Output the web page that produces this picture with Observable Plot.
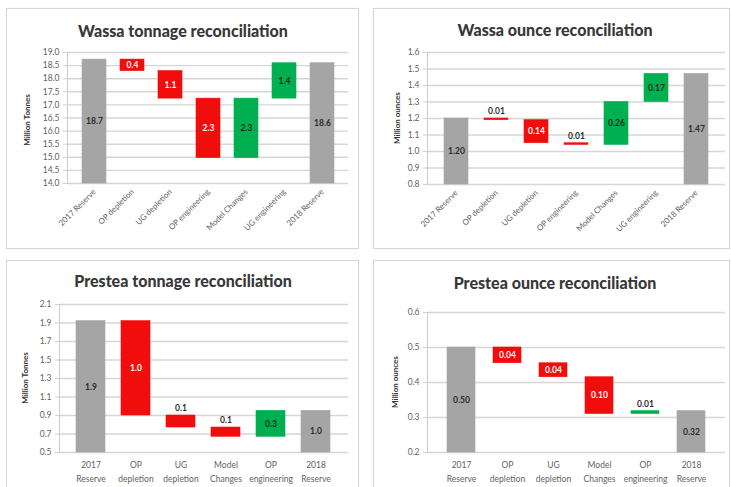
<!DOCTYPE html>
<html>
<head>
<meta charset="utf-8">
<script src="https://cdn.jsdelivr.net/npm/d3@7"></script>
<script src="https://cdn.jsdelivr.net/npm/@observablehq/plot@0.6"></script>
<style>
  html, body { margin: 0; padding: 0; background: #fff; }
  #root { position: relative; width: 731px; height: 487px; overflow: hidden; font-family: Lato, "Open Sans", sans-serif; }
  .panel { position: absolute; border: 1.5px solid #d6d6d6; box-sizing: border-box; background: #fff; box-shadow: 0 0 1px #e4e4e4; }
  .title { position: absolute; transform: translate(-50%, -50%); font-weight: 900; font-size: 16px; color: #383838; white-space: nowrap; }
  .ylab { position: absolute; transform: translate(-50%, -50%) rotate(-90deg); font-weight: bold; font-size: 8px; color: #333; white-space: nowrap; }
  .chart { position: absolute; }
</style>
</head>
<body>
<div id="root"></div>
<script>
// ---------- data ----------
const wassaCategories = ["2017 Reserve", "OP depletion", "UG depletion", "OP engineering", "Model Changes", "UG engineering", "2018 Reserve"];
const presteaCategories = ["2017\nReserve", "OP\ndepletion", "UG\ndepletion", "Model\nChanges", "OP\nengineering", "2018\nReserve"];

const wassaTonnageStart = 18.73;
const wassaTonnageChanges = [-0.44, -1.05, -2.27, 2.27, 1.35];
const wassaTonnageEnd = 18.59;
const wassaTonnageLabels = ["18.7", "0.4", "1.1", "2.3", "2.3", "1.4", "18.6"];
const wassaTonnageTicks = [14.0, 14.5, 15.0, 15.5, 16.0, 16.5, 17.0, 17.5, 18.0, 18.5, 19.0];
const wassaTonnageAbove = [];

const wassaOunceStart = 1.20;
const wassaOunceChanges = [-0.01, -0.14, -0.01, 0.26, 0.17];
const wassaOunceEnd = 1.47;
const wassaOunceLabels = ["1.20", "0.01", "0.14", "0.01", "0.26", "0.17", "1.47"];
const wassaOunceTicks = [0.8, 0.9, 1.0, 1.1, 1.2, 1.3, 1.4, 1.5, 1.6];
const wassaOunceAbove = ["OP depletion", "OP engineering"];

const presteaTonnageStart = 1.92;
const presteaTonnageChanges = [-1.02, -0.13, -0.10, 0.28];
const presteaTonnageEnd = 0.95;
const presteaTonnageLabels = ["1.9", "1.0", "0.1", "0.1", "0.3", "1.0"];
const presteaTonnageTicks = [0.5, 0.7, 0.9, 1.1, 1.3, 1.5, 1.7, 1.9, 2.1];
const presteaTonnageAbove = ["UG\ndepletion", "Model\nChanges"];

const presteaOunceStart = 0.50;
const presteaOunceChanges = [-0.045, -0.04, -0.105, 0.008];
const presteaOunceEnd = 0.318;
const presteaOunceLabels = ["0.50", "0.04", "0.04", "0.10", "0.01", "0.32"];
const presteaOunceTicks = [0.2, 0.3, 0.4, 0.5, 0.6];
const presteaOunceAbove = ["OP\nengineering"];

// ---------- helpers ----------
const colors = {total: "#a5a5a5", down: "#f20d0d", up: "#00b050"};
const labelColors = {total: "#2b2b2b", down: "#ffffff", up: "#1c2b1c"};

function waterfall(cats, start, changes, end, labels, yMin, above) {
  const rows = [{cat: cats[0], y1: yMin, y2: start, kind: "total", label: labels[0]}];
  let cur = start;
  changes.forEach((d, i) => {
    rows.push({cat: cats[i + 1], y1: cur, y2: cur + d, kind: d < 0 ? "down" : "up", label: labels[i + 1]});
    cur += d;
  });
  rows.push({cat: cats[cats.length - 1], y1: yMin, y2: end, kind: "total", label: labels[labels.length - 1]});
  rows.forEach(r => { r.above = above.includes(r.cat); });
  return rows;
}

const root = document.getElementById("root");
function addDiv(cls, style, text) {
  const d = document.createElement("div");
  d.className = cls;
  Object.assign(d.style, style);
  if (text != null) d.textContent = text;
  root.appendChild(d);
  return d;
}

function chart(cfg) {
  const rows = waterfall(cfg.cats, cfg.start, cfg.changes, cfg.end, cfg.labels, cfg.ticks[0], cfg.above);
  const inside = rows.filter(r => !r.above);
  const outside = rows.filter(r => r.above);
  const fmt = d3.format(cfg.fmt);
  const svg = Plot.plot({
    width: cfg.w, height: cfg.h,
    marginTop: cfg.mt, marginBottom: cfg.mb, marginLeft: cfg.ml, marginRight: cfg.mr,
    style: {fontFamily: "Lato, 'Open Sans', sans-serif", fontSize: "8.5px", color: "#626262", background: "transparent", overflow: "visible"},
    x: {domain: cfg.cats, padding: cfg.pad, label: null},
    y: {domain: [cfg.ticks[0], cfg.ticks[cfg.ticks.length - 1]], label: null},
    marks: [
      Plot.gridY(cfg.ticks, {stroke: "#d6d6d6", strokeOpacity: 1, strokeWidth: 1.4}),
      Plot.frame({anchor: "left", stroke: "#cfcfcf", strokeWidth: 1.2}),
      Plot.axisY(cfg.ticks, {tickFormat: fmt, tickSize: 4, tickPadding: 4, stroke: "#cfcfcf", label: null, fontSize: 8.5}),
      cfg.rotate
        ? Plot.axisX({tickRotate: -45, tickSize: 0, tickPadding: 7, label: null, fontSize: 8})
        : Plot.axisX({tickSize: 0, tickPadding: 6, label: null, fontSize: 8.5, lineHeight: 1.6}),
      Plot.barY(rows, {x: "cat", y1: "y1", y2: "y2", fill: d => colors[d.kind], stroke: d => colors[d.kind], strokeWidth: 0.6}),
      Plot.text(inside, {x: "cat", y: d => (d.y1 + d.y2) / 2, text: "label", fill: d => labelColors[d.kind], fontWeight: "bold", fontSize: 8.5}),
      Plot.text(outside, {x: "cat", y: d => Math.max(d.y1, d.y2), dy: -7, text: "label", fill: "#2b2b2b", fontWeight: "bold", fontSize: 8.5})
    ]
  });
  svg.classList.add("chart");
  svg.style.left = cfg.x + "px";
  svg.style.top = cfg.y + "px";
  root.appendChild(svg);
}

// ---------- panels ----------
addDiv("panel", {left: "6px", top: "8px", width: "353px", height: "241px"});
addDiv("panel", {left: "373px", top: "8px", width: "357px", height: "241px"});
addDiv("panel", {left: "6px", top: "260px", width: "353px", height: "240px"});
addDiv("panel", {left: "373px", top: "260px", width: "357px", height: "240px"});

addDiv("title", {left: "183px", top: "30px"}, "Wassa tonnage reconciliation");
addDiv("title", {left: "555px", top: "29px"}, "Wassa ounce reconciliation");
addDiv("title", {left: "183px", top: "280px"}, "Prestea tonnage reconciliation");
addDiv("title", {left: "555px", top: "282px"}, "Prestea ounce reconciliation");

addDiv("ylab", {left: "27px", top: "120px"}, "Million Tonnes");
addDiv("ylab", {left: "397px", top: "118px"}, "Million ounces");
addDiv("ylab", {left: "25px", top: "378px"}, "Million Tonnes");
addDiv("ylab", {left: "395px", top: "382px"}, "Million ounces");

chart({cats: wassaCategories, start: wassaTonnageStart, changes: wassaTonnageChanges, end: wassaTonnageEnd,
  labels: wassaTonnageLabels, ticks: wassaTonnageTicks, above: wassaTonnageAbove, fmt: ".1f",
  x: 6, y: 40, w: 352, h: 208, mt: 12, mb: 65, ml: 61, mr: 10, pad: 0.375, rotate: true});

chart({cats: wassaCategories, start: wassaOunceStart, changes: wassaOunceChanges, end: wassaOunceEnd,
  labels: wassaOunceLabels, ticks: wassaOunceTicks, above: wassaOunceAbove, fmt: ".1f",
  x: 373, y: 40, w: 356, h: 208, mt: 12, mb: 64, ml: 54, mr: 4, pad: 0.39, rotate: true});

chart({cats: presteaCategories, start: presteaTonnageStart, changes: presteaTonnageChanges, end: presteaTonnageEnd,
  labels: presteaTonnageLabels, ticks: presteaTonnageTicks, above: presteaTonnageAbove, fmt: ".1f",
  x: 6, y: 292, w: 352, h: 198, mt: 12, mb: 38, ml: 53, mr: 10, pad: 0.35, rotate: false});

chart({cats: presteaCategories, start: presteaOunceStart, changes: presteaOunceChanges, end: presteaOunceEnd,
  labels: presteaOunceLabels, ticks: presteaOunceTicks, above: presteaOunceAbove, fmt: ".1f",
  x: 373, y: 292, w: 356, h: 198, mt: 20, mb: 38, ml: 54, mr: 4, pad: 0.4, rotate: false});
</script>
</body>
</html>
